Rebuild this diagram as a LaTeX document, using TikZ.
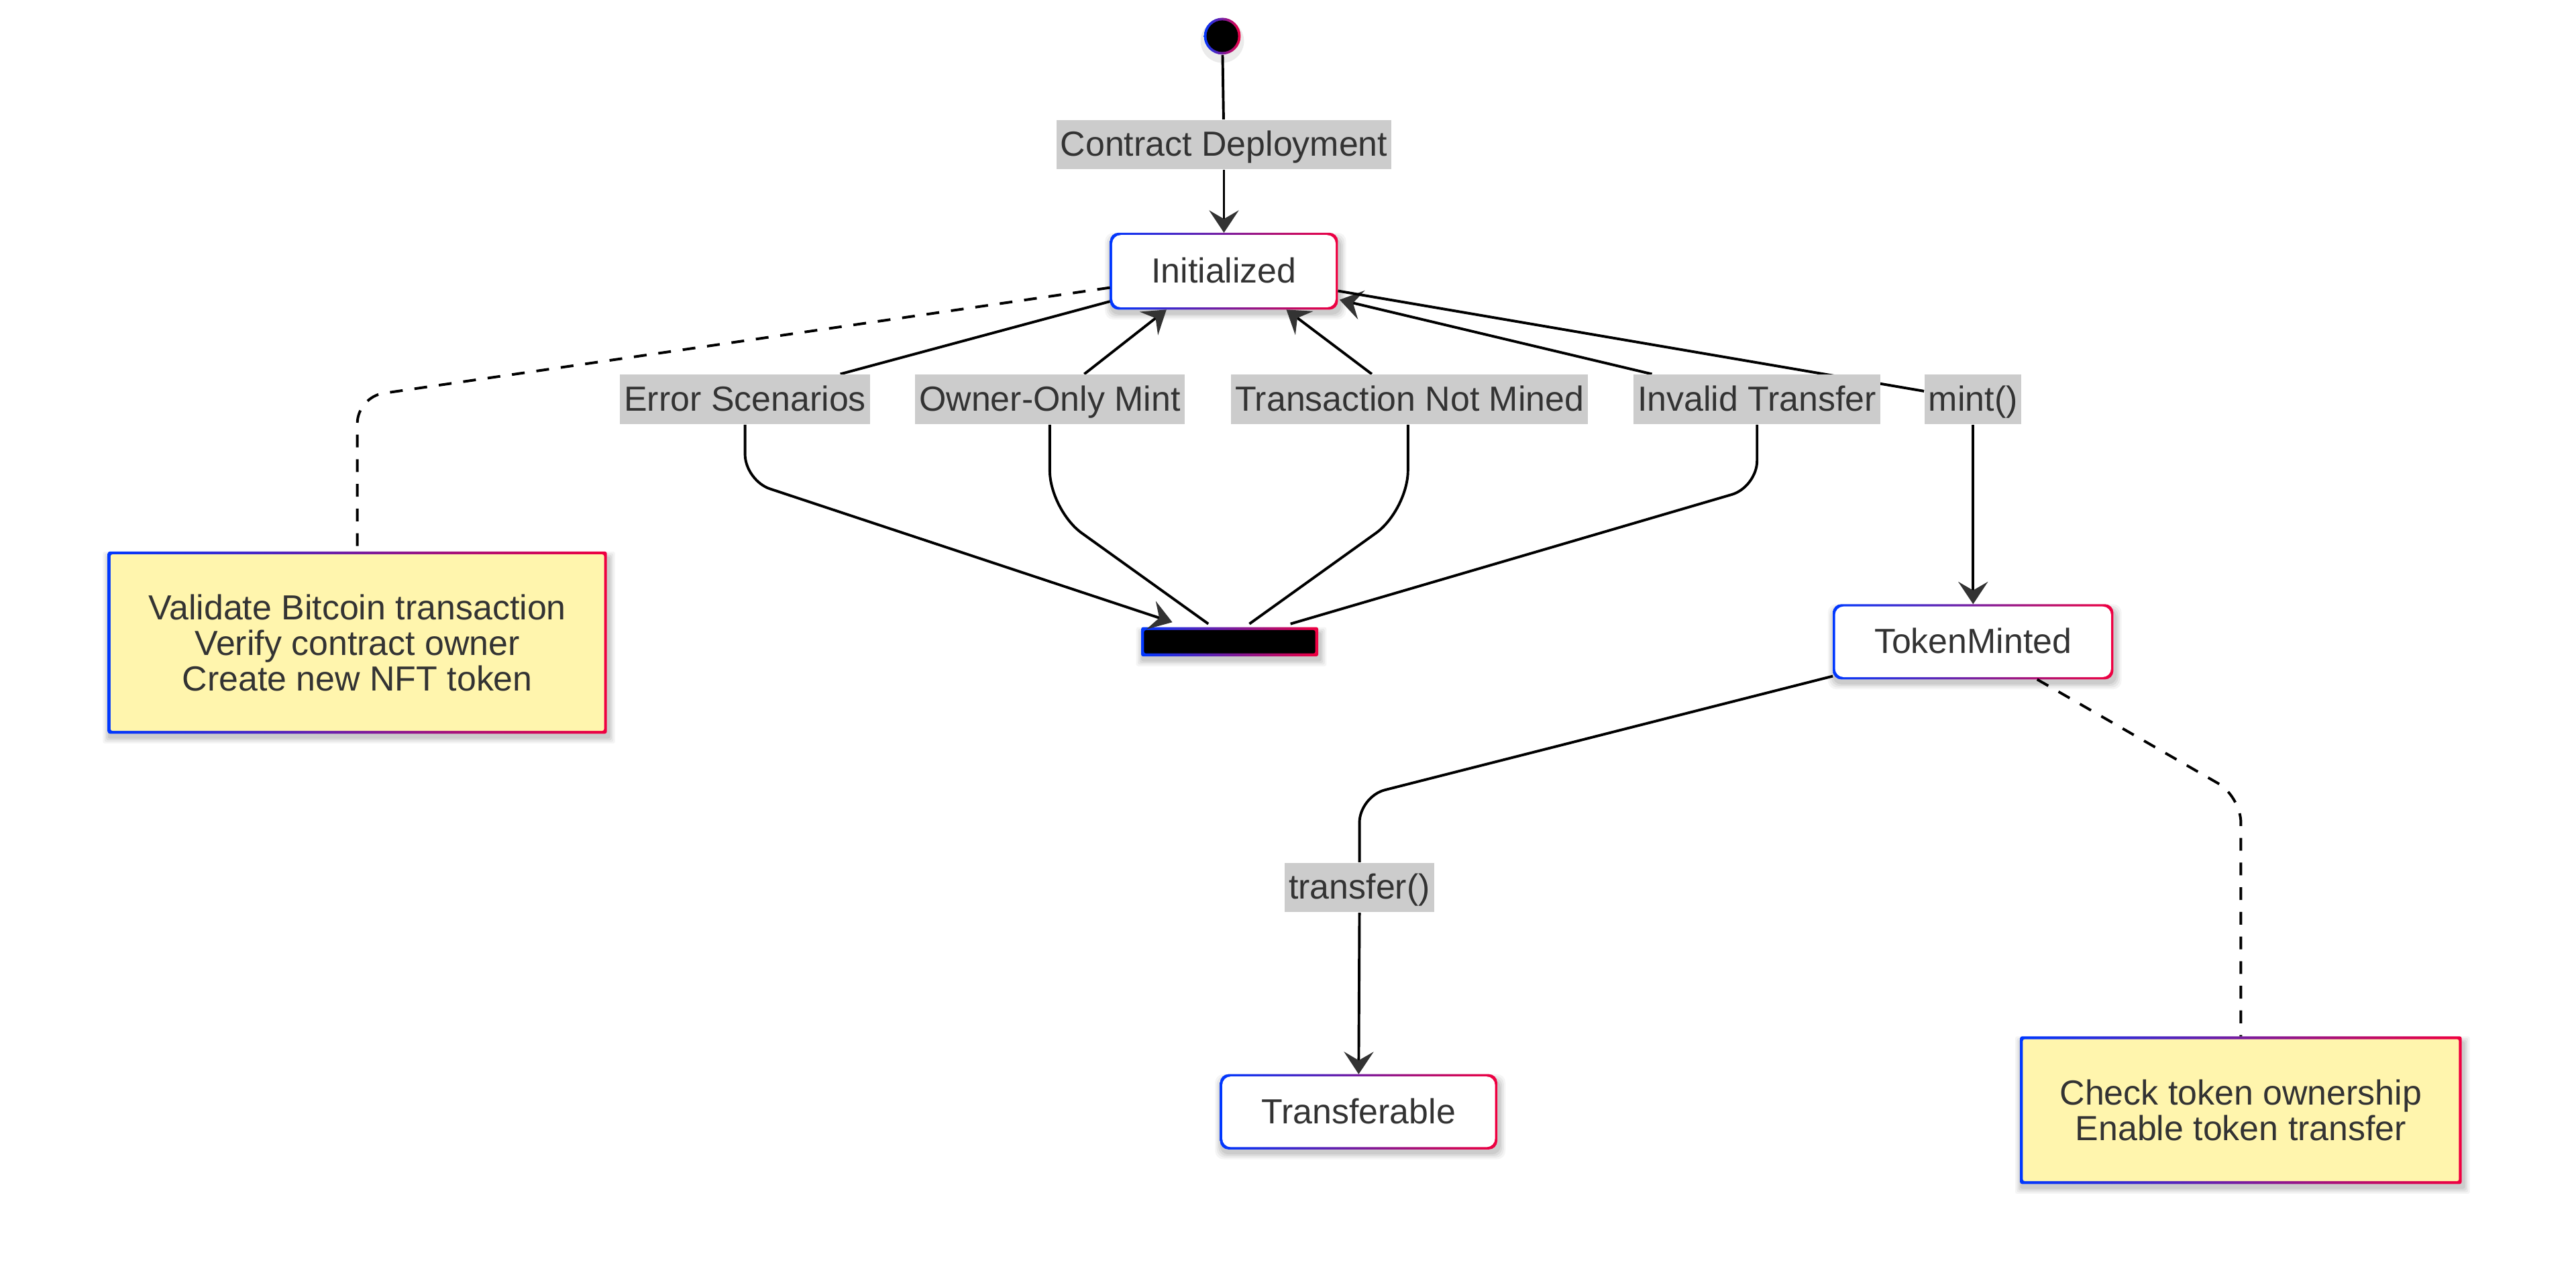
\documentclass[tikz,border=0pt]{standalone}
\usepackage{fontspec}
\setmainfont{Liberation Sans}
\usetikzlibrary{arrows.meta,calc}
\definecolor{gblue}{HTML}{0038FF}
\definecolor{gred}{HTML}{F00040}
\definecolor{txt}{HTML}{333333}
\definecolor{lblbg}{HTML}{CCCCCC}
\definecolor{notebg}{HTML}{FFF5AD}
\pgfdeclarelayer{bg}\pgfdeclarelayer{edges}
\pgfsetlayers{bg,edges,main}
\newcommand\gframe[4]{%
  \begin{pgfonlayer}{bg}
    \foreach \s/\o in {4/0.04,3/0.05,2/0.06,1/0.07}{
      \fill[black,opacity=\o,rounded corners=#3] ($(#1.south west)+(-\s+1,\s+2)$) rectangle ($(#1.north east)+(\s+1,-\s+4)$);}
    \shade[left color=gblue,right color=gred,rounded corners=#3] (#1.south west) rectangle (#1.north east);
    \fill[#2,rounded corners=#3] ($(#1.south west)+(#4,-#4)$) rectangle ($(#1.north east)+(-#4,#4)$);
  \end{pgfonlayer}}
\tikzset{
  every node/.style={text=txt, font=\fontsize{10.6}{10.8}\selectfont},
  lbl/.style={fill=lblbg, inner xsep=1.2pt, inner ysep=0pt, minimum height=15pt, text height=7.6pt, text depth=0.5pt},
  stbox/.style={minimum width=#1, minimum height=23pt, inner sep=0pt, text height=7.6pt, text depth=0.5pt},
  notebox/.style 2 args={minimum width=#1, minimum height=#2, inner sep=0pt, align=center},
  conn/.style={draw=black, line width=0.8pt},
  notec/.style={conn, dash pattern=on 3.9pt off 3.6pt},
  >={Stealth[length=6.8pt,width=9pt,inset=2.6pt,color=txt]}
}
\begin{document}
\begin{tikzpicture}[x=0.5pt,y=-0.5pt]
\useasboundingbox (0,0) rectangle (1568,773);
% nodes
\node[circle, minimum size=11pt, inner sep=0pt] (start) at (744,22) {};
\node[lbl] (cd) at (745,88) {Contract Deployment};
\node[stbox=69pt] (init) at (745,165) {Initialized};
\node[lbl] (l1) at (453.5,243) {Error Scenarios};
\node[lbl] (l2) at (639,243) {Owner-Only Mint};
\node[lbl] (l3) at (858,243) {Transaction Not Mined};
\node[lbl] (l4) at (1069.5,243) {Invalid Transfer};
\node[lbl] (l5) at (1201,243) {mint()};
\node[minimum width=53.5pt, minimum height=8.5pt, inner sep=0pt] (bar) at (748.5,390.5) {};
\node[notebox={151.5pt}{55pt}] (note1) at (217.5,391) {Validate Bitcoin transaction\\Verify contract owner\\Create new NFT token};
\node[stbox=85pt, minimum height=22.5pt] (tm) at (1201,390.5) {TokenMinted};
\node[lbl] (l6) at (827.5,540) {transfer()};
\node[stbox=84pt, minimum height=22.5pt] (tr) at (827,676.5) {Transferable};
\node[notebox={134pt}{44.5pt}] (note2) at (1364,675.5) {Check token ownership\\Enable token transfer};
% frames
\gframe{init}{white}{2.6pt}{1.4}
\gframe{tm}{white}{2.6pt}{1.4}
\gframe{tr}{white}{2.6pt}{1.4}
\gframe{note1}{notebg}{0.6pt}{1.7}
\gframe{note2}{notebg}{0.6pt}{1.7}
\gframe{bar}{black}{0.6pt}{1.8}
\begin{pgfonlayer}{bg}
  \fill[black,opacity=0.08] ($(start.center)+(0,3)$) circle (6.6pt);
  \shade[left color=gblue,right color=gred] (start.center) circle (5.6pt);
  \fill[black] (start.center) circle (4.8pt);
\end{pgfonlayer}
% edges
\begin{pgfonlayer}{edges}
\draw[conn] (start) -- (cd);
\draw[conn,->] (cd) -- (init);
% Error Scenarios
\draw[conn] ($(init.south west)+(0,-5)$) -- ($(l1.north)+(58,0)$);
\draw[conn,->,rounded corners=8pt] (l1.south) -- ($(l1.south)+(0,34)$) -- ($(bar.north west)+(19,-3)$);
% Owner-Only Mint
\draw[conn,rounded corners=12pt] ($(bar.north)+(-13,-2)$) -- ($(l2.south)+(0,52)$) -- (l2.south);
\draw[conn,->] ($(l2.north)+(21,0)$) -- ($(init.south)+(-35,0)$);
% Transaction Not Mined
\draw[conn,rounded corners=12pt] ($(bar.north)+(12,-2)$) -- ($(l3.south)+(-1,52)$) -- ($(l3.south)+(-1,0)$);
\draw[conn,->] ($(l3.north)+(-23,0)$) -- ($(init.south)+(38,0)$);
% Invalid Transfer
\draw[conn,rounded corners=8pt] ($(bar.north)+(37,-2)$) -- ($(l4.south)+(0,38)$) -- (l4.south);
\draw[conn,->] ($(l4.north)+(-64,0)$) -- ($(init.south east)+(1,-6)$);
% mint()
\draw[conn] ($(init.east)+(0,12)$) -- ($(l5.west)+(0,-5)$);
\draw[conn,->] (l5.south) -- (tm.north);
% transfer()
\draw[conn,rounded corners=8pt] ($(tm.south west)+(0,-2)$) -- ($(l6.north)+(0,-40)$) -- (l6.north);
\draw[conn,->] (l6.south) -- (tr.north);
% notes
\draw[notec,rounded corners=8pt] ($(init.west)+(0,10)$) -- ($(note1.north)+(0,-94)$) -- (note1.north);
\draw[notec,rounded corners=8pt] ($(tm.south)+(39,0)$) -- ($(note2.north)+(0,-146)$) -- (note2.north);
\end{pgfonlayer}
\end{tikzpicture}
\end{document}
